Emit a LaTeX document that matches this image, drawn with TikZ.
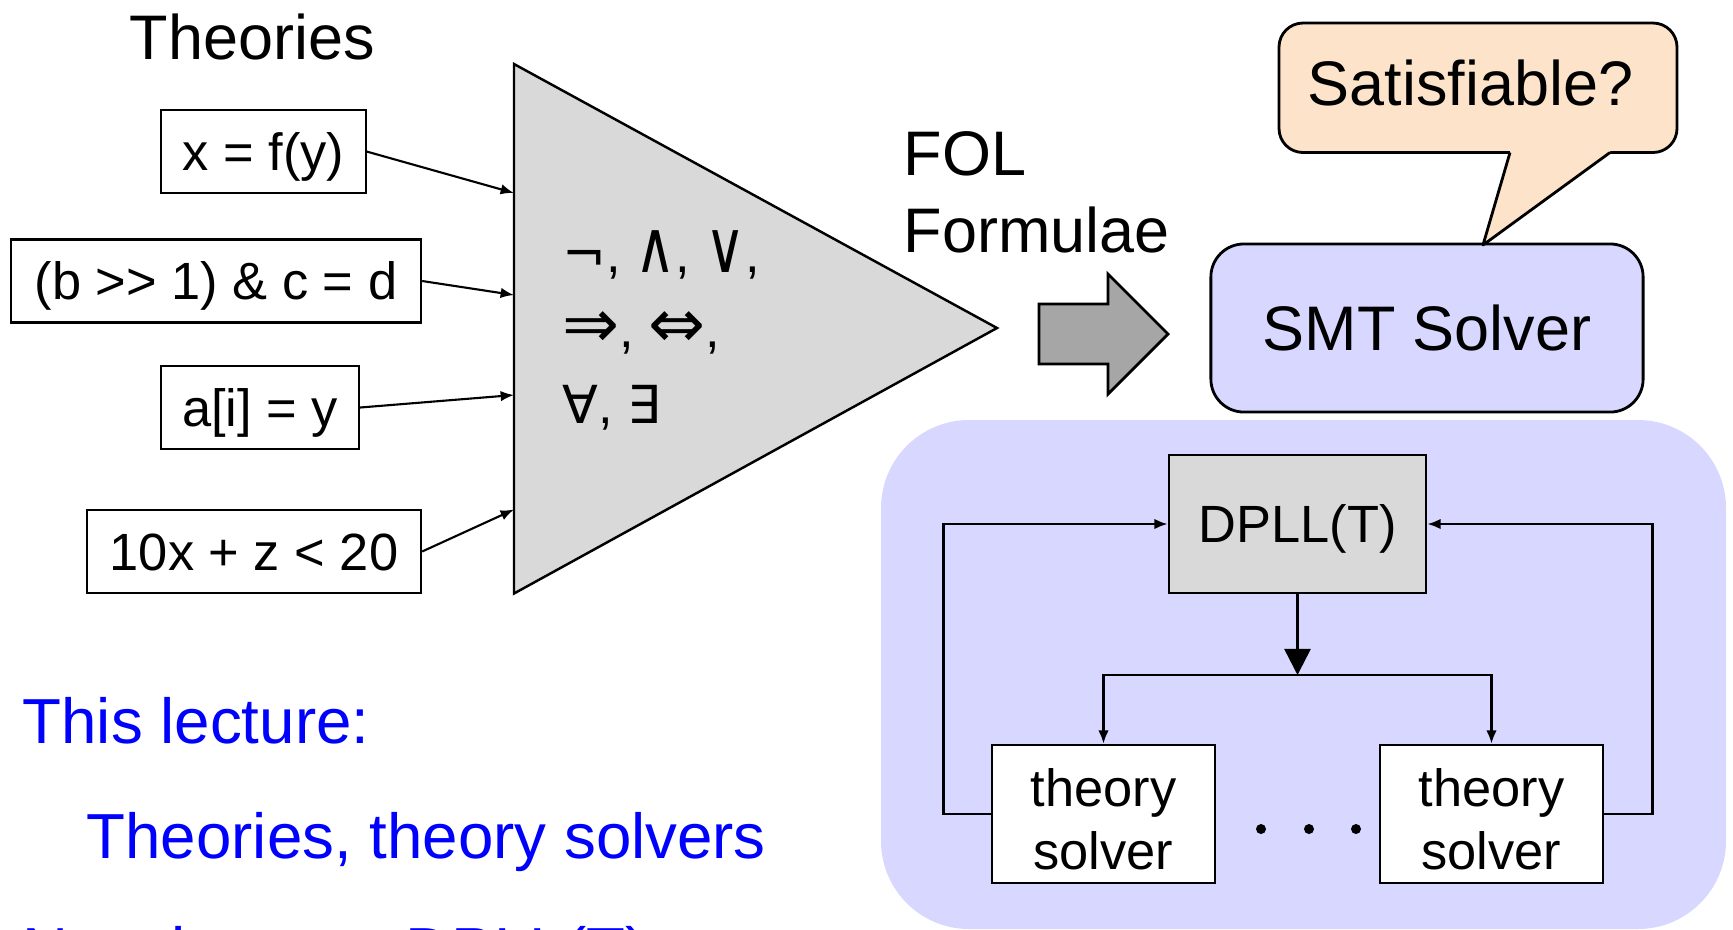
\documentclass[tikz,border=0pt]{standalone}
\usepackage{fontspec}
\usepackage{graphicx}
\setmainfont{Liberation Sans}
\newfontfamily\symf{DejaVu Sans}
\usetikzlibrary{arrows.meta}
\definecolor{triGray}{HTML}{D9D9D9}
\definecolor{arrGray}{HTML}{A6A6A6}
\definecolor{lav}{HTML}{D7D7FF}
\definecolor{peach}{HTML}{FDE3C9}
\definecolor{lectureBlue}{HTML}{0000FF}
% logic symbols, enlarged to match the surrounding text
\newcommand{\opsym}[1]{\scalebox{1.3}{\symf #1}}
\newcommand{\opjoin}[1]{\scalebox{1.05}[1.38]{\symf #1}}
\begin{document}
\begin{tikzpicture}[x=0.01cm,y=-0.01cm,
  big/.style={font=\fontsize{17.9}{21.5}\selectfont},
  small/.style={font=\fontsize{14.9}{17.9}\selectfont},
  txt/.style={inner sep=0pt, anchor=base west},
  termbox/.style={draw, line width=0.6pt, fill=white, small, inner sep=0pt, minimum height=0.83cm,
    text height=0.376cm, text depth=0pt},
  inarrow/.style={line width=0.6pt, -{Latex[length=3.8pt,width=3pt]}},
  flow/.style={line width=0.7pt, -{Latex[length=3.8pt,width=3pt]}},
  solverbox/.style={draw, line width=0.7pt, fill=white, small, align=center, inner sep=0pt,
    minimum width=2.23cm, minimum height=1.38cm},
  dot/.style={fill=black, circle, inner sep=0pt, minimum size=0.1cm},
]
\useasboundingbox (0,0) rectangle (1733,929);

% background panel for the solver internals
\fill[lav, rounded corners=0.88cm] (881,420) rectangle (1726,929);

% theories feeding the logic
\node[txt, big] (theories) at (129,59) {Theories};
\node[termbox, minimum width=2.04cm] (t1) at (263.5,151.5) {x = f(y)};
\node[termbox, minimum width=4.10cm] (t2) at (216,281) {(b >\kern0pt> 1) \& c = d};
\node[termbox, minimum width=1.98cm] (t3) at (260,407.5) {a[i] = y};
\node[termbox, minimum width=3.34cm] (t4) at (254,551.5) {10x + z < 20};

% the logic triangle
\coordinate (triTop) at (514,64);
\coordinate (triBot) at (514,593.5);
\coordinate (triTip) at (997,328);
\draw[fill=triGray, line width=0.7pt] (triTop) -- (triTip) -- (triBot) -- cycle;
\coordinate (in1) at (514,193);
\coordinate (in2) at (514,295);
\coordinate (in3) at (514,395);
\coordinate (in4) at (514,509.5);
\draw[inarrow] (t1.east) -- (in1);
\draw[inarrow] (t2.east) -- (in2);
\draw[inarrow] (t3.east) -- (in3);
\draw[inarrow] (t4.east) -- (in4);

\node[txt, small] (ops1) at (562,272) {{\symf ¬}, \opjoin{∧}, \opjoin{∨},};
\node[txt, small] (ops2) at (562,347) {\opsym{⇒}, \opsym{⇔},};
\node[txt, small] (ops3) at (562,423) {{\symf ∀}, {\symf ∃}};

\node[txt, big] (fol1) at (903,175) {FOL};
\node[txt, big] (fol2) at (903,252) {Formulae};

% block arrow into the solver
\draw[fill=arrGray, line width=0.8pt]
  (1039,304) -- (1108,304) -- (1108,274) -- (1168,334) -- (1108,394) -- (1108,364) -- (1039,364) -- cycle;

% SMT solver and its question
\node[draw, fill=lav, rounded corners=0.33cm, line width=0.8pt, minimum width=4.32cm,
      minimum height=1.68cm, big, inner sep=0pt, text height=0.45cm, text depth=0pt]
      (smt) at (1427,328) {SMT Solver};
\draw[fill=peach, line width=0.8pt, rounded corners=0.24cm] (1279,23) rectangle (1677,152.5);
\fill[peach] (1510,152.5) -- (1483,245) -- (1610,152.5) -- (1610,148) -- (1510,148) -- cycle;
\draw[line width=0.8pt, line join=round] (1510,152.5) -- (1483,245) -- (1610,152.5);
\node[txt, big] (sat) at (1307,105) {Satisfiable?};

% DPLL(T) with theory solvers
\node[draw, fill=triGray, line width=0.7pt, minimum width=2.57cm, minimum height=1.38cm,
      inner sep=0pt, small, text height=0.376cm, text depth=0pt] (dpll) at (1297.5,524) {DPLL(T)};
\node[solverbox] (ts1) at (1103.5,814) {\rule{0pt}{0.49cm}theory\\solver};
\node[solverbox] (ts2) at (1491.5,814) {\rule{0pt}{0.49cm}theory\\solver};
\coordinate (split) at (1297.5,675);
\draw[line width=0.7pt, -{Triangle[length=7.4pt,width=7.4pt]}] (dpll.south) -- (split);
\draw[flow] (split) -| (ts1.north);
\draw[flow] (split) -| (ts2.north);
\draw[flow] (ts1.west) -- ++(-47,0) |- (dpll.west);
\draw[flow] (ts2.east) -- ++(48,0) |- (dpll.east);
\node[dot] (d1) at (1261,829) {};
\node[dot] (d2) at (1309,829) {};
\node[dot] (d3) at (1356,829) {};

% lecture plan
\node[txt, font=\fontsize{18.1}{21.7}\selectfont, text=lectureBlue] (this) at (22,743) {This lecture:};
\node[txt, font=\fontsize{18.1}{21.7}\selectfont, text=lectureBlue] (thisitem) at (86,858) {Theories, theory solvers};
\node[txt, font=\fontsize{18.1}{21.7}\selectfont, text=lectureBlue] (next) at (22,972) {Next lecture:\hspace{0.26cm}DPLL(T)};
\end{tikzpicture}
\end{document}
